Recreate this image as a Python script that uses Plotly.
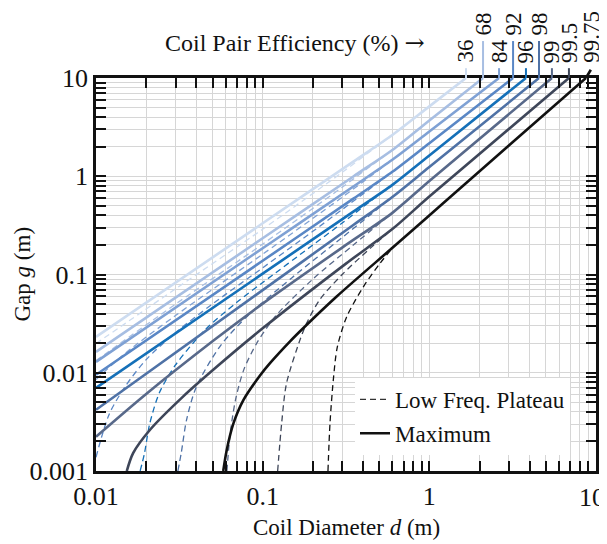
import math
import plotly.graph_objects as go

FONT = "Liberation Serif, Times New Roman, serif"

efficiency_labels = ["36", "68", "84", "92", "96", "98", "99", "99.5", "99.75"]
line_colors = ["#cddcf0", "#a7bee2", "#7fa1d4", "#5a87c5", "#1570b8",
               "#4f72a6", "#58698a", "#3e4659", "#111111"]
# label row: 0 = low row, 1 = high row
label_rows = [0, 1, 0, 1, 0, 1, 0, 0, 0]

# x axis tick labels (the last one is drawn separately so it stays inside the page)
x_tick_vals = [0.01, 0.1, 1, 10]
x_tick_text = ["0.01", "0.1", "1", "10"]

# "Maximum" curves (coil diameter d in m, gap g in m)
d_max_36 = [0.01, 0.1, 0.35, 0.6, 1.0, 1.66]
g_max_36 = [0.0232, 0.332, 1.41, 2.63, 5.14, 10]
d_max_68 = [0.01, 0.1, 0.35, 0.6, 1.0, 2.10]
g_max_68 = [0.0163, 0.234, 0.995, 1.85, 3.70, 10]
d_max_84 = [0.01, 0.1, 0.35, 0.6, 1.0, 2.62]
g_max_84 = [0.0129, 0.185, 0.787, 1.47, 2.85, 10]
d_max_92 = [0.01, 0.1, 0.35, 0.6, 1.0, 3.18]
g_max_92 = [0.00953, 0.138, 0.591, 1.11, 2.17, 10]
d_max_96 = [0.01, 0.1, 0.35, 0.6, 1.0, 3.80]
g_max_96 = [0.00702, 0.102, 0.436, 0.817, 1.63, 10]
d_max_98 = [0.01, 0.1, 0.35, 0.6, 1.0, 4.55]
g_max_98 = [0.0042, 0.0693, 0.319, 0.615, 1.24, 10]
d_max_99 = [0.01, 0.02, 0.05, 0.1, 0.3, 0.6, 1.0, 5.44]
g_max_99 = [0.00223, 0.00608, 0.0209, 0.0505, 0.188, 0.424, 0.895, 10]
d_max_995 = [0.0153, 0.0167, 0.0211, 0.0334, 0.053, 0.1, 0.316, 0.6, 1.0, 6.88]
g_max_995 = [0.001, 0.00152, 0.00263, 0.00575, 0.0115, 0.0283, 0.129, 0.29, 0.622, 10]
d_max_9975 = [0.058, 0.0608, 0.0667, 0.0766, 0.0964, 0.111, 0.146, 0.175, 0.278, 0.608, 1.21, 8.7]
g_max_9975 = [0.001, 0.00162, 0.00303, 0.00527, 0.00938, 0.0126, 0.0209, 0.0284, 0.0597, 0.1905, 0.531, 10]

# "Low Freq. Plateau" curves
d_lf_36 = [0.01, 0.03, 0.1, 0.3, 0.45, 0.6]
g_lf_36 = [0.0198, 0.0714, 0.289, 1.096, 1.83, 2.63]
d_lf_68 = [0.01, 0.03, 0.1, 0.3, 0.45, 0.6]
g_lf_68 = [0.0133, 0.0499, 0.204, 0.773, 1.29, 1.85]
d_lf_84 = [0.01, 0.015, 0.03, 0.1, 0.3, 0.45, 0.6]
g_lf_84 = [0.00853, 0.0158, 0.0382, 0.161, 0.611, 1.02, 1.47]
d_lf_92 = [0.01, 0.012, 0.015, 0.02, 0.03, 0.05, 0.1, 0.2, 0.3, 0.45, 0.6]
g_lf_92 = [0.00138, 0.00379, 0.00729, 0.0136, 0.0256, 0.0501, 0.117, 0.275, 0.459, 0.767, 1.107]
d_lf_96 = [0.0184, 0.0195, 0.021, 0.024, 0.03, 0.045, 0.07, 0.1, 0.2, 0.3, 0.45, 0.6]
g_lf_96 = [0.001, 0.00149, 0.00302, 0.00625, 0.012, 0.0272, 0.0522, 0.0828, 0.1995, 0.334, 0.568, 0.817]
d_lf_98 = [0.031, 0.0325, 0.035, 0.04, 0.0555, 0.08, 0.15, 0.3, 0.45, 0.6]
g_lf_98 = [0.001, 0.00154, 0.00336, 0.00718, 0.0186, 0.037, 0.0929, 0.238, 0.414, 0.615]
d_lf_99 = [0.061, 0.064, 0.069, 0.077, 0.092, 0.12, 0.2, 0.35, 0.6]
g_lf_99 = [0.001, 0.00249, 0.00548, 0.0107, 0.0199, 0.038, 0.0897, 0.1995, 0.424]
d_lf_995 = [0.123, 0.13, 0.139, 0.1675, 0.1837, 0.221, 0.3, 0.45, 0.6]
g_lf_995 = [0.001, 0.00307, 0.0078, 0.0216, 0.032, 0.056, 0.10, 0.19, 0.29]
d_lf_9975 = [0.2465, 0.2535, 0.2655, 0.28, 0.319, 0.402, 0.506, 0.608]
g_lf_9975 = [0.001, 0.00307, 0.0085, 0.018, 0.037, 0.075, 0.13, 0.1905]

max_curves = [(d_max_36, g_max_36), (d_max_68, g_max_68), (d_max_84, g_max_84),
              (d_max_92, g_max_92), (d_max_96, g_max_96), (d_max_98, g_max_98),
              (d_max_99, g_max_99), (d_max_995, g_max_995), (d_max_9975, g_max_9975)]
lf_curves = [(d_lf_36, g_lf_36), (d_lf_68, g_lf_68), (d_lf_84, g_lf_84),
             (d_lf_92, g_lf_92), (d_lf_96, g_lf_96), (d_lf_98, g_lf_98),
             (d_lf_99, g_lf_99), (d_lf_995, g_lf_995), (d_lf_9975, g_lf_9975)]

fig = go.Figure()

# dashed plateau curves first, so the solid ones sit on top
for (d, g), color in zip(lf_curves, line_colors):
    fig.add_trace(go.Scatter(x=d, y=g, mode="lines", showlegend=False,
                             line=dict(color=color, width=1.3, dash="6px,4px",
                                       shape="spline", smoothing=0.8)))
for (d, g), color in zip(max_curves, line_colors):
    fig.add_trace(go.Scatter(x=d, y=g, mode="lines", showlegend=False,
                             line=dict(color=color, width=2.6,
                                       shape="spline", smoothing=0.8)))

# legend entries
fig.add_trace(go.Scatter(x=[None], y=[None], mode="lines", name="Low Freq. Plateau",
                         legendgroup="a",
                         line=dict(color="#333333", width=1.3, dash="6px,4px")))
fig.add_trace(go.Scatter(x=[None], y=[None], mode="lines", name="Maximum",
                         legendgroup="b",
                         line=dict(color="#111111", width=2.6)))

# leader lines + efficiency labels above the plot
annotations = []
shapes = []
for i, label in enumerate(efficiency_labels):
    d_top = max_curves[i][0][-1]
    color = line_colors[i]
    if i == len(efficiency_labels) - 1:
        x_end = d_top * 1.07
        shapes.append(dict(type="line", xref="x", yref="paper", x0=d_top, x1=x_end,
                           y0=1.0, y1=1.021, line=dict(color=color, width=2.6)))
        x_lab = x_end
        y_lab = 1.033
    else:
        y_top = 1.094 if label_rows[i] else 1.025
        shapes.append(dict(type="line", xref="x", yref="paper", x0=d_top, x1=d_top,
                           y0=1.0, y1=y_top, line=dict(color=color, width=2)))
        x_lab = d_top
        y_lab = 1.102 if label_rows[i] else 1.033
    annotations.append(dict(text=label, x=math.log10(x_lab), y=y_lab, xref="x", yref="paper",
                            textangle=-90, showarrow=False, xanchor="center", yanchor="bottom",
                            font=dict(family=FONT, size=23, color="#111111")))

annotations.append(dict(
    text="Coil Pair Efficiency (%) <span style='font-family:DejaVu Serif'>\u2192</span>",
    x=0.134, y=1.089, xref="paper", yref="paper", showarrow=False,
    xanchor="left", yanchor="middle",
    font=dict(family=FONT, size=24, color="#111111")))

# last x tick label, right-aligned to the page edge instead of centred on the tick
annotations.append(dict(text=x_tick_text[-1], x=math.log10(x_tick_vals[-1]), y=0,
                        xref="x", yref="paper", showarrow=False,
                        xanchor="right", yanchor="middle", xshift=11, yshift=-26,
                        font=dict(family=FONT, size=26, color="#111111")))

# axis titles
annotations.append(dict(text="Coil Diameter <i>d</i> (m)", x=0.5, y=-0.1425,
                        xref="paper", yref="paper", showarrow=False,
                        xanchor="center", yanchor="middle",
                        font=dict(family=FONT, size=23, color="#111111")))
annotations.append(dict(text="Gap <i>g</i> (m)", x=-0.148, y=0.5, textangle=-90,
                        xref="paper", yref="paper", showarrow=False,
                        xanchor="center", yanchor="middle",
                        font=dict(family=FONT, size=23, color="#111111")))

grid_color = "#d6d6d6"
axis_style = dict(
    type="log", showline=True, linecolor="#111111", linewidth=2.5, mirror="allticks",
    ticks="inside", ticklen=10, tickwidth=2, tickcolor="#111111", dtick=1,
    showgrid=True, gridcolor=grid_color, gridwidth=1, zeroline=False, automargin=False,
    minor=dict(ticks="inside", ticklen=10, tickwidth=2, tickcolor="#111111",
               dtick="D1", showgrid=True, gridcolor=grid_color, gridwidth=1),
    tickfont=dict(family=FONT, size=26, color="#111111"),
)

# the page body has an 8 px margin, so the figure is 8 px smaller than the window
fig.update_layout(
    width=599, height=536, autosize=False,
    margin=dict(l=88, r=11, t=70, b=73),
    plot_bgcolor="white", paper_bgcolor="white",
    font=dict(family=FONT, size=23, color="#111111"),
    xaxis=dict(axis_style, range=[-2, 1], ticklabelstandoff=0,
               tickmode="array", tickvals=x_tick_vals,
               ticktext=x_tick_text[:-1] + [""]),
    yaxis=dict(axis_style, range=[-3, 1], ticklabelstandoff=0),
    legend=dict(x=0.518, y=0.237, xanchor="left", yanchor="top", bgcolor="white",
                borderwidth=0, tracegroupgap=1, traceorder="grouped",
                font=dict(family=FONT, size=23, color="#111111")),
    shapes=shapes,
    annotations=annotations,
)

fig.write_html("out.html")
